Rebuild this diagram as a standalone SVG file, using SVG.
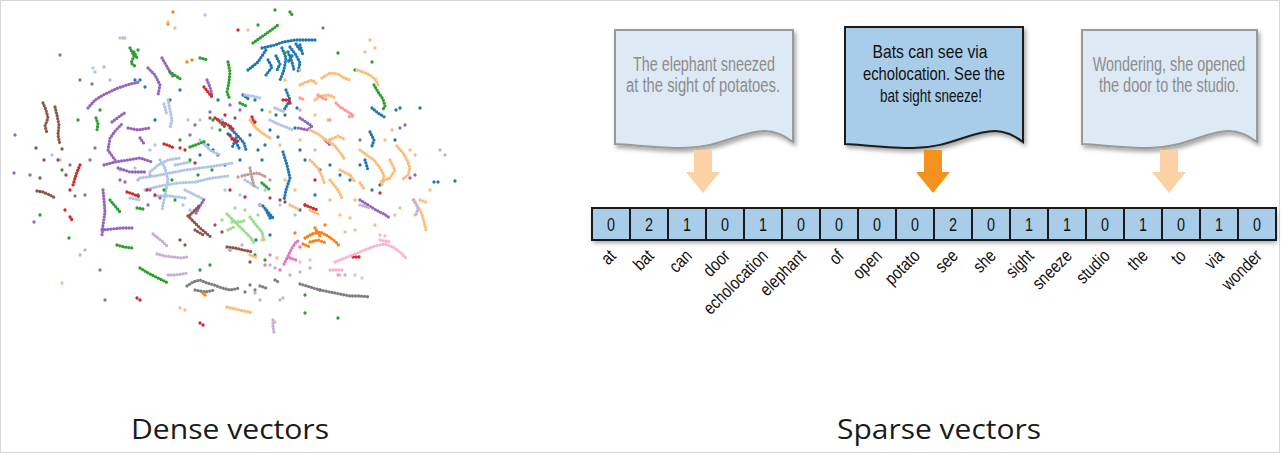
<svg xmlns="http://www.w3.org/2000/svg" width="1284" height="454" viewBox="0 0 1284 454">
<defs>
<filter id="sh" x="-10%" y="-10%" width="130%" height="140%"><feDropShadow dx="2" dy="3" stdDeviation="2" flood-color="#000" flood-opacity="0.35"/></filter>
<filter id="sh2" x="-2%" y="-20%" width="104%" height="160%"><feDropShadow dx="1" dy="3" stdDeviation="2" flood-color="#000" flood-opacity="0.35"/></filter>
<style>
.s{fill:none;stroke-linecap:round;stroke-linejoin:round;stroke-width:3.3}
.t{stroke-dasharray:0 3}
.b{stroke:#1f77b4}.lb{stroke:#aec7e8}.p{stroke:#9467bd}.lp{stroke:#c5b0d5}
.g{stroke:#2ca02c}.lg{stroke:#98df8a}.r{stroke:#d62728}.lr{stroke:#ff9896}
.br{stroke:#8c564b}.lbr{stroke:#c49c94}.gy{stroke:#7f7f7f}.pk{stroke:#e377c2}
.lpk{stroke:#f7b6d2}.o{stroke:#ff7f0e}.lo{stroke:#ffbb78}
.docl{fill:#dde9f5;stroke:#999;stroke-width:2}
.docd{fill:#a9cde8;stroke:#1c1c1c;stroke-width:2}
.dtl{font-family:"Liberation Sans",Arial,sans-serif;font-size:20px;fill:#8c8c8c;text-anchor:middle}
.dtd{font-family:"Liberation Sans",Arial,sans-serif;font-size:19px;fill:#111;text-anchor:middle}
.cell{fill:#a9cde8;stroke:#1a1a1a;stroke-width:2}
.num{font-family:"Liberation Sans",Arial,sans-serif;font-size:18px;fill:#111;text-anchor:middle}
.lab{font-family:"Liberation Sans",Arial,sans-serif;font-size:18px;fill:#111;text-anchor:end}
.cap{font-family:"Open Sans","Liberation Sans",sans-serif;font-size:28px;fill:#1a1a1a;text-anchor:middle}
</style>
</defs>
<rect x="0.5" y="0.5" width="1279" height="452" fill="#fff" stroke="#d6d6d6"/>

<g id="dense-scatter">
<path class="s t b" d="M248 70 L258 62 L266 50 M262 48 L275 45 L283 42 L295 40 L305 40 L315 40 M282 48 L286 58 L284 70 L280 80 M290 47 L296 55 L300 63 L298 72 M292 56 L288 62 M268 60 L272 67 L266 75 M300 45 L303 55 M286 90 L290 100 L284 110 M243 95 L250 100 M230 128 L237 135 L244 143 L246 150 M236 138 L232 148 M283 152 L287 165 L290 178 L286 190 L284 200 M263 206 L268 212 L273 218 M372 108 L378 113 L386 118 M370 132 L374 140 L372 146 M365 160 L368 170 M288 52 L292 62 L294 70 M276 56 L280 64 L276 72 M296 44 L300 50 M228 134 L236 142 L240 150 M266 210 L271 220"/>
<path class="s b" d="M255 100h0M262 110h0M276 115h0M300 150h0M305 160h0M320 170h0M330 165h0M340 175h0M350 180h0M360 165h0M372 190h0M380 185h0M395 140h0M420 108h0M434 182h0M438 182h0M455 181h0M297 108h0M262 160h0M265 145h0M278 137h0M295 128h0M208 145h0M213 150h0M218 155h0M225 165h0M240 160h0M170 100h0M180 90h0M155 120h0M145 87h0M135 80h0M140 80h0M300 210h0M305 205h0M315 195h0M230 250h0M256 240h0M270 235h0M396 110h0M400 108h0M250 135h0M218 100h0M285 115h0M270 130h0M258 150h0M200 155h0"/>
<path class="s t lb" d="M168 100 L170 110 L172 120 L170 128 M140 178 L155 176 L170 173 L185 170 L200 168 L215 166 L232 163 M145 190 L160 186 L178 183 L195 182 L212 178 L228 176 M160 160 L165 168 L168 180 L165 195 L162 210 M150 172 L158 165 L168 160 L180 158 M185 190 L195 195 L205 200 M270 120 L278 124 L286 127 L293 130 M245 95 L252 96 L260 98 M275 108 L285 112 M200 140 L210 150 L220 155 M130 198 L140 200 M245 180 L258 188 M164 104 L167 115 M155 196 L170 196 L185 198 M175 165 L190 162"/>
<path class="s lb" d="M93 68h0M95 72h0M60 160h0M52 155h0M120 170h0M135 168h0M212 128h0M225 190h0M240 195h0M183 205h0M190 210h0M150 150h0M155 145h0M265 190h0M280 205h0M295 215h0M235 208h0M200 120h0M188 120h0M120 38h0M125 38h0M205 15h0M315 150h0M330 140h0"/>
<path class="s t p" d="M88 108 L95 100 L105 94 L118 88 L130 84 L140 82 M148 68 L155 75 L160 85 L158 95 M162 58 L166 65 L170 72 L174 78 M115 160 L108 150 L110 138 L116 130 L122 124 M128 128 L138 130 L150 128 M104 165 L115 162 L128 160 L140 158 L152 162 M118 168 L130 172 L145 172 M103 190 L104 200 L105 212 L103 225 L102 235 M102 230 L112 229 L122 228 L134 228 M196 213 L200 206 L205 198 M207 80 L210 87 L212 95 M300 118 L306 122 L312 126 L308 130 L298 128 M360 200 L368 205 L376 210 L384 214 L390 218 M325 140 L330 145 M140 138 L145 145 M112 122 L120 116 L126 112"/>
<path class="s p" d="M15 135h0M14 173h0M34 222h0M30 175h0M70 165h0M75 196h0M90 160h0M95 148h0M85 195h0M120 180h0M125 182h0M150 190h0M148 205h0M160 198h0M230 105h0M240 110h0M210 112h0M195 125h0M190 135h0M105 300h0M100 270h0M410 178h0M415 175h0M92 84h0M80 80h0M60 55h0M323 28h0M405 125h0M400 128h0M360 140h0"/>
<path class="s t g" d="M130 48 L134 56 L131 63 L136 67 M228 62 L230 72 L229 82 L227 92 L230 100 M253 43 L260 38 L267 33 L274 28 L278 25 M290 12 L293 16 M170 72 L176 76 L182 80 M200 58 L208 60 M96 118 L98 124 L97 130 M110 200 L115 206 L120 212 M137 208 L143 209 M117 245 L124 247 L132 248 M140 268 L148 273 L156 277 L164 281 L168 283 M190 147 L198 144 L206 141 M374 85 L378 92 L383 99 L385 106 L382 111 M240 103 L246 106 M262 183 L270 190 M134 52 L138 60"/>
<path class="s g" d="M40 215h0M62 170h0M78 120h0M69 238h0M138 195h0M164 190h0M172 180h0M212 170h0M190 160h0M258 25h0M275 10h0M285 53h0M338 53h0M355 70h0M372 62h0M305 295h0M320 290h0M305 313h0M338 318h0M255 255h0M265 260h0M210 265h0M200 270h0M175 200h0M213 120h0M220 130h0M180 140h0M198 175h0M100 110h0M138 50h0"/>
<path class="s t r" d="M80 165 L77 172 L75 178 L73 185 M70 217 L72 220 M204 87 L208 92 L212 97 M215 118 L222 122 L230 126 L234 130 M252 117 L254 123 M164 144 L170 146 L174 148 M127 192 L133 194 L140 197 M283 100 L290 100 M353 257 L360 257 M305 205 L312 208 L318 210 M232 139 L240 142"/>
<path class="s r" d="M137 298h0M140 300h0M200 323h0M203 325h0M238 30h0M180 148h0M185 150h0M195 163h0M230 190h0M245 197h0M70 190h0M65 210h0M147 190h0M155 195h0M380 193h0M315 180h0M230 135h0M255 122h0M290 103h0M225 115h0"/>
<path class="s t br" d="M43 103 L46 110 L48 118 L45 126 L47 133 M55 107 L57 115 L59 125 L58 135 L60 145 M37 191 L43 192 L50 195 L55 198 M188 216 L194 222 L200 228 L206 233 L212 238 M195 230 L205 236 M227 247 L235 248 L243 250 L253 252 M218 120 L225 127 M190 215 L195 210 L200 205"/>
<path class="s br" d="M40 178h0M44 160h0M36 148h0M58 160h0M62 149h0M66 175h0M180 240h0M185 245h0M215 225h0M222 232h0M260 205h0M270 198h0M250 262h0M235 118h0M210 118h0M280 200h0M285 202h0"/>
<path class="s t lbr" d="M242 176 L250 174 L258 173 L266 177 M250 168 L252 178 L254 186"/>
<path class="s lbr" d="M238 177h0M270 180h0"/>
<path class="s t lg" d="M227 214 L233 220 L239 226 L245 232 L251 238 L254 243 M232 222 L240 222 L246 220 M228 230 L236 226 M250 217 L256 225 L262 232 L264 240"/>
<path class="s lg" d="M222 220h0M245 210h0M258 215h0"/>
<path class="s t gy" d="M187 286 L193 282 L200 280 L207 283 L214 285 L222 288 L230 290 L240 288 M195 290 L205 292 L215 290 M300 284 L310 287 L320 290 L330 292 L340 294 L350 296 L360 296 L370 297 M260 286 L266 288 M275 280 L280 283"/>
<path class="s gy" d="M250 285h0M255 290h0M245 292h0"/>
<path class="s t pk" d="M284 264 L288 256 L292 248 L296 242 L300 240 M290 258 L296 260"/>
<path class="s pk" d="M280 270h0M300 247h0M270 255h0M265 265h0"/>
<path class="s t lpk" d="M335 262 L345 258 L355 254 L365 250 L375 246 L385 244 L393 247 L400 252 L406 258 M380 240 L390 242 M330 270 L345 270"/>
<path class="s lpk" d="M380 235h0M385 236h0M310 260h0M300 262h0M340 275h0M355 275h0M362 278h0"/>
<path class="s t o" d="M305 238 L312 234 L320 232 L328 236 L336 242 L340 247 M310 242 L318 240 L326 243 M315 228 L320 236 M303 244 L310 247"/>
<path class="s o" d="M187 62h0M192 60h0M203 293h0M205 295h0M295 233h0M325 225h0M173 12h0M168 24h0"/>
<path class="s t lo" d="M300 85 L306 82 L312 80 L318 85 M322 78 L330 73 L338 74 L344 78 L350 80 M357 70 L363 72 L370 75 L376 80 L378 85 M315 100 L320 96 L330 95 L335 98 M250 120 L255 127 L262 133 L270 138 M310 130 L318 134 L326 140 L334 145 L340 152 L345 160 M330 140 L338 136 L346 140 M360 150 L368 156 L374 160 L380 168 L384 175 L382 185 M397 146 L403 153 L407 160 L410 168 L408 175 L402 180 M390 160 L395 170 L390 178 L380 182 M310 160 L318 168 L322 176 L325 185 M340 170 L350 175 L355 182 M330 180 L338 190 L342 198 M360 183 L365 190 M413 200 L418 207 L422 214 L424 222 L426 230 M420 200 L428 203 M227 307 L235 309 L244 311 L253 313 M250 255 L258 258 M310 210 L320 215 M290 205 L300 210"/>
<path class="s lo" d="M168 22h0M175 28h0M248 30h0M370 40h0M375 48h0M365 52h0M300 70h0M285 80h0M270 112h0M340 215h0M350 218h0M355 230h0M345 232h0M375 225h0M395 215h0M400 208h0M430 190h0M180 308h0M185 310h0M62 283h0M275 322h0M262 240h0M277 258h0M415 215h0M285 180h0M295 190h0M280 145h0M300 140h0M315 115h0M328 120h0M392 130h0M385 140h0M410 150h0M415 155h0M355 200h0M330 200h0"/>
<path class="s t lr" d="M336 103 L340 107 L345 110 L350 113 L354 116 L348 117 M318 95 L322 98 L328 100 M300 98 L305 100"/>
<path class="s lr" d="M330 120h0M300 110h0"/>
<path class="s t lp" d="M153 234 L158 238 L163 242 L167 246 M157 254 L165 256 L173 257 L181 258 L187 257 M168 275 L175 275 L182 274 L188 273 M273 320 L273 326 L274 333 M414 200 L418 208 L416 215 M360 205 L370 208"/>
<path class="s lp" d="M123 38h0M104 67h0M110 80h0M80 255h0M85 250h0M260 205h0M270 265h0M275 268h0M290 275h0M300 272h0M310 268h0M345 275h0M255 293h0M260 300h0M222 120h0M230 250h0M242 245h0M150 175h0M138 180h0M280 300h0M283 298h0M440 150h0M445 155h0M338 275h0"/>
</g>

<g id="doc1">
<path class="docl" filter="url(#sh)" d="M615 30 H793 V142 C785 136 775 131 765 131 C740 131 720 148 683 148 C660 148 635 145 615 144 Z"/>
<text class="dtl" x="704" y="71" textLength="142" lengthAdjust="spacingAndGlyphs">The elephant sneezed</text>
<text class="dtl" x="703" y="92" textLength="154" lengthAdjust="spacingAndGlyphs">at the sight of potatoes.</text>
</g>
<g id="doc2">
<path class="docd" filter="url(#sh)" d="M845 27 H1023 V142 C1015 136 1005 131 995 131 C970 131 950 148 913 148 C890 148 865 145 845 144 Z"/>
<text class="dtd" x="930" y="58" textLength="115" lengthAdjust="spacingAndGlyphs">Bats can see via</text>
<text class="dtd" x="934" y="80" textLength="142" lengthAdjust="spacingAndGlyphs">echolocation. See the</text>
<text class="dtd" x="931" y="102" textLength="102" lengthAdjust="spacingAndGlyphs">bat sight sneeze!</text>
</g>
<g id="doc3">
<path class="docl" filter="url(#sh)" d="M1082 30 H1257 V142 C1249 136 1239 131 1229 131 C1205 131 1185 148 1149 148 C1126 148 1102 145 1082 144 Z"/>
<text class="dtl" transform="translate(1169 71) scale(0.72 1)">Wondering, she opened</text>
<text class="dtl" transform="translate(1169 92) scale(0.725 1)">the door to the studio.</text>
</g>

<g id="connectors">
<polygon fill="#fcd2a4" points="694,150 712,150 712,172 720,172 703,193 686,172 694,172"/>
<polygon fill="#f5921e" points="924,150 942,150 942,172 950,172 933,193 916,172 924,172"/>
<polygon fill="#fcd2a4" points="1160,150 1178,150 1178,172 1186,172 1169,193 1152,172 1160,172"/>
</g>

<g id="vector">
<rect x="592" y="208" width="684" height="32" fill="#a9cde8" filter="url(#sh2)"/>
<g>
<rect class="cell" x="592" y="208" width="38" height="32"/><rect class="cell" x="630" y="208" width="38" height="32"/><rect class="cell" x="668" y="208" width="38" height="32"/><rect class="cell" x="706" y="208" width="38" height="32"/><rect class="cell" x="744" y="208" width="38" height="32"/><rect class="cell" x="782" y="208" width="38" height="32"/><rect class="cell" x="820" y="208" width="38" height="32"/><rect class="cell" x="858" y="208" width="38" height="32"/><rect class="cell" x="896" y="208" width="38" height="32"/><rect class="cell" x="934" y="208" width="38" height="32"/><rect class="cell" x="972" y="208" width="38" height="32"/><rect class="cell" x="1010" y="208" width="38" height="32"/><rect class="cell" x="1048" y="208" width="38" height="32"/><rect class="cell" x="1086" y="208" width="38" height="32"/><rect class="cell" x="1124" y="208" width="38" height="32"/><rect class="cell" x="1162" y="208" width="38" height="32"/><rect class="cell" x="1200" y="208" width="38" height="32"/><rect class="cell" x="1238" y="208" width="38" height="32"/>
</g>
<g class="num">
<text transform="translate(611 231) scale(0.8 1)">0</text><text transform="translate(649 231) scale(0.8 1)">2</text><text transform="translate(687 231) scale(0.8 1)">1</text><text transform="translate(725 231) scale(0.8 1)">0</text><text transform="translate(763 231) scale(0.8 1)">1</text><text transform="translate(801 231) scale(0.8 1)">0</text><text transform="translate(839 231) scale(0.8 1)">0</text><text transform="translate(877 231) scale(0.8 1)">0</text><text transform="translate(915 231) scale(0.8 1)">0</text><text transform="translate(953 231) scale(0.8 1)">2</text><text transform="translate(991 231) scale(0.8 1)">0</text><text transform="translate(1029 231) scale(0.8 1)">1</text><text transform="translate(1067 231) scale(0.8 1)">1</text><text transform="translate(1105 231) scale(0.8 1)">0</text><text transform="translate(1143 231) scale(0.8 1)">1</text><text transform="translate(1181 231) scale(0.8 1)">0</text><text transform="translate(1219 231) scale(0.8 1)">1</text><text transform="translate(1257 231) scale(0.8 1)">0</text>
</g>
</g>

<g id="labels" class="lab">
<text transform="translate(617 257) rotate(-45) scale(0.82 1)">at</text>
<text transform="translate(655 257) rotate(-45) scale(0.82 1)">bat</text>
<text transform="translate(693 257) rotate(-45) scale(0.82 1)">can</text>
<text transform="translate(731 257) rotate(-45) scale(0.82 1)">door</text>
<text transform="translate(769 257) rotate(-45) scale(0.82 1)">echolocation</text>
<text transform="translate(807 257) rotate(-45) scale(0.82 1)">elephant</text>
<text transform="translate(845 257) rotate(-45) scale(0.82 1)">of</text>
<text transform="translate(883 257) rotate(-45) scale(0.82 1)">open</text>
<text transform="translate(921 257) rotate(-45) scale(0.82 1)">potato</text>
<text transform="translate(959 257) rotate(-45) scale(0.82 1)">see</text>
<text transform="translate(997 257) rotate(-45) scale(0.82 1)">she</text>
<text transform="translate(1035 257) rotate(-45) scale(0.82 1)">sight</text>
<text transform="translate(1073 257) rotate(-45) scale(0.82 1)">sneeze</text>
<text transform="translate(1111 257) rotate(-45) scale(0.82 1)">studio</text>
<text transform="translate(1149 257) rotate(-45) scale(0.82 1)">the</text>
<text transform="translate(1187 257) rotate(-45) scale(0.82 1)">to</text>
<text transform="translate(1225 257) rotate(-45) scale(0.82 1)">via</text>
<text transform="translate(1263 257) rotate(-45) scale(0.82 1)">wonder</text>
</g>

<g id="captions">
<text class="cap" x="230" y="439" textLength="198" lengthAdjust="spacingAndGlyphs">Dense vectors</text>
<text class="cap" x="939" y="439" textLength="204" lengthAdjust="spacingAndGlyphs">Sparse vectors</text>
</g>
</svg>
